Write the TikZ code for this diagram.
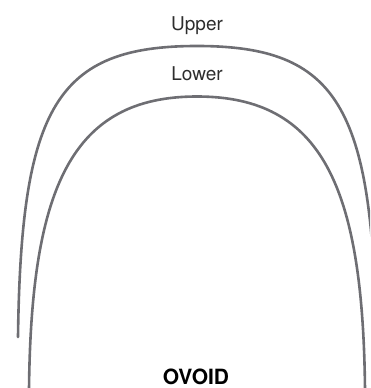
\documentclass[tikz,border=0pt]{standalone}
\usepackage{fontspec}
\setmainfont{TeX Gyre Heros}
\usetikzlibrary{calc}
\definecolor{archgray}{RGB}{110,110,115}
\definecolor{labelgray}{RGB}{45,45,45}

\begin{document}
\begin{tikzpicture}
[
  x=1pt, y=1pt,
  every node/.style={inner sep=0pt, font=\fontsize{19}{22}\selectfont, text=labelgray},
  arch/.style={draw=archgray, line width=2.6pt, line cap=round}
]
\clip (0,0) rectangle (370,388);

% upper arch
\coordinate (utop) at (197,342);
\draw[arch] (18,51) .. controls (21,282) and (57,342) .. (utop)
            .. controls (337,342) and (373,282) .. (376,51);

% lower arch
\coordinate (ltop) at (197,291.5);
\draw[arch] (29,-2) .. controls (31,201.5) and (72,291.5) .. (ltop)
            .. controls (322,291.5) and (363,201.5) .. (365,-2);

\node[anchor=base] (upper) at (197,357) {Upper};
\node[anchor=base] (lower) at (197,307) {Lower};
\node[anchor=base, font=\fontsize{21}{24}\selectfont\bfseries, text=black] (ovoid) at (196,4) {OVOID};
\end{tikzpicture}
\end{document}
